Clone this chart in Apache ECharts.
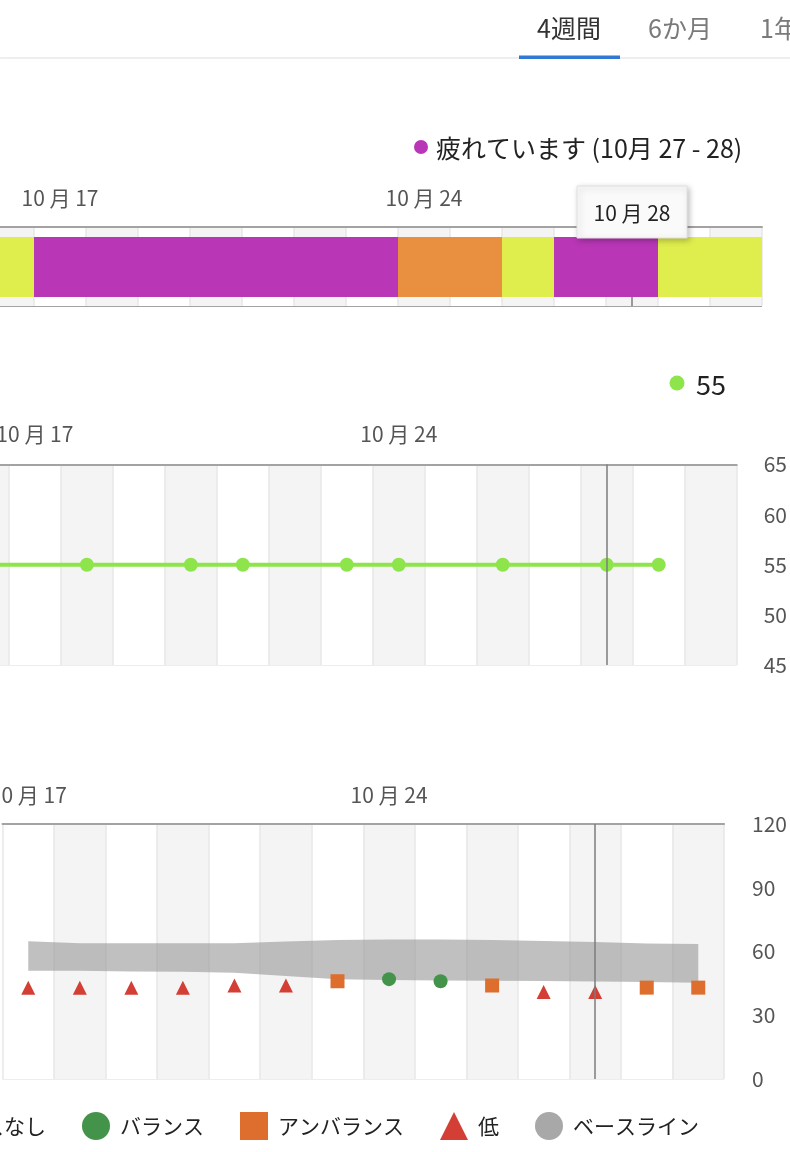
<!DOCTYPE html>
<html><head><meta charset="utf-8">
<script src="https://cdn.jsdelivr.net/npm/echarts@6/dist/echarts.min.js"></script>
<style>
html,body{margin:0;padding:0;background:#fff;overflow:hidden;width:790px;height:1152px;position:relative}
#c{position:absolute;left:-260px;top:0;width:1050px;height:1152px}
</style>
</head><body><div id="c"></div>
<script>
// ---------- data ----------
const MONTH = 10;
const selectedDay = '28';
const tabs = ['4週間', '6か月', '1年'];

// chart 1: daily status bar
const statusDays = ['16','17','18','19','20','21','22','23','24','25','26','27','28','29','30'];
const statusValues = ['fresh','tired','tired','tired','tired','tired','tired','tired','strained','strained','fresh','tired','tired','fresh','fresh'];
const statusLabels = { tired: '疲れています', strained: '', fresh: '' };

// chart 2: score line
const scoreDays = ['16','17','18','19','20','21','22','23','24','25','26','27','28','29','30'];
const scoreValues = [55, null, 55, null, 55, 55, null, 55, 55, null, 55, null, 55, 55, null];

// chart 3: HRV status
const hrvDays = ['17','18','19','20','21','22','23','24','25','26','27','28','29','30'];
const hrvValues = [43, 43, 43, 43, 44, 44, 46, 47, 46, 44, 41, 41, 43, 43];
const hrvStatus = ['low','low','low','low','low','low','unbalanced','balanced','balanced','unbalanced','low','low','unbalanced','unbalanced'];
const baselineLow  = [51, 51, 50.6, 50.5, 50, 48.5, 47, 46.6, 46.4, 46.2, 46.1, 45.9, 45.6, 45.3];
const baselineHigh = [64.8, 63.9, 63.9, 63.9, 63.9, 64.7, 65.4, 65.6, 65.6, 65.4, 65, 64.5, 63.8, 63.5];
const legendNames = ['ステータスなし', 'バランス', 'アンバランス', '低', 'ベースライン'];

// ---------- styles ----------
const OFF = 260;
const sx = v => v + OFF;
const FONT = "'Noto Sans CJK JP', 'Noto Sans', sans-serif";
const statusColors = { fresh: '#dfee4c', tired: '#b937b7', strained: '#e88f40' };
const GREEN_LINE = '#8ee54b';
const C_BAL = '#43944a', C_UNBAL = '#dd6e2e', C_LOW = '#d33f35', C_BASE = '#a8a8a8';
const GRAY_BAND = '#f4f4f4', SPLIT = '#e7e7e7', BORDER = '#a3a3a3', CROSS = '#7d7d7d';

const dayLabel = v => MONTH + ' 月 ' + v;
const weekly = (i, v) => (Number(v) - 3) % 7 === 0;

function xAxisBase(grid, days, firstGray, labelMargin) {
  return {
    type: 'category', gridIndex: grid, data: days, position: 'top', boundaryGap: true,
    axisLine: { show: true, onZero: false, lineStyle: { color: BORDER, width: 2 } },
    axisTick: { show: false, interval: 0 },
    axisLabel: { interval: weekly, formatter: dayLabel, margin: labelMargin, verticalAlign: 'middle',
                 color: '#555', fontSize: 21, fontFamily: FONT },
    splitLine: { show: true, interval: 0, lineStyle: { color: SPLIT, width: 1.5 } },
    splitArea: { show: true, interval: 0, areaStyle: { color: firstGray ? [GRAY_BAND, '#ffffff'] : ['#ffffff', GRAY_BAND] } }
  };
}

const chart = echarts.init(document.getElementById('c'), null, { renderer: 'canvas' });

const crossLine = {
  silent: true, symbol: 'none', label: { show: false }, animation: false,
  lineStyle: { color: CROSS, width: 1.5, type: 'solid' },
  data: [{ xAxis: selectedDay }]
};

const scatterFor = key => hrvDays.map((d, i) => hrvStatus[i] === key ? [d, hrvValues[i]] : null).filter(Boolean);

const option = {
  animation: false,
  textStyle: { fontFamily: FONT },
  grid: [
    { left: 242, top: 227, width: 780, height: 79 },
    { left: 242, top: 237, width: 780, height: 60 },
    { left: sx(-43.1), top: 464.5, width: 781, height: 200.5 },
    { left: sx(2.5), top: 824, width: 722.5, height: 255 }
  ],
  xAxis: [
    xAxisBase(0, statusDays, true, 29),
    { type: 'category', gridIndex: 1, data: statusDays, show: false },
    xAxisBase(2, scoreDays, true, 30),
    xAxisBase(3, hrvDays, false, 29)
  ],
  yAxis: [
    { type: 'value', gridIndex: 0, min: 0, max: 1, interval: 1, axisLabel: { show: false },
      axisLine: { show: false, onZero: false }, axisTick: { show: false },
      splitLine: { show: true, lineStyle: { color: BORDER, width: 2 } } },
    { type: 'value', gridIndex: 1, min: 0, max: 1, show: false },
    { type: 'value', gridIndex: 2, position: 'right', min: 45, max: 65, interval: 5,
      axisLine: { show: false, onZero: false }, axisTick: { show: false },
      axisLabel: { margin: 27, color: '#555', fontSize: 21, fontFamily: FONT },
      splitLine: { show: true, lineStyle: { color: SPLIT, width: 1.5 } } },
    { type: 'value', gridIndex: 3, position: 'right', min: 0, max: 120, interval: 30,
      axisLine: { show: false, onZero: false }, axisTick: { show: false },
      axisLabel: { margin: 28, color: '#555', fontSize: 21, fontFamily: FONT },
      splitLine: { show: true, lineStyle: { color: SPLIT, width: 1.5 } } }
  ],
  legend: {
    top: 1112, right: 1050 - sx(699), padding: 0, itemGap: 36, itemWidth: 28, itemHeight: 28,
    selectedMode: false,
    textStyle: { fontSize: 21, color: '#222', fontFamily: FONT, padding: [0, 0, 0, 5] },
    data: [
      { name: legendNames[0], icon: 'circle', itemStyle: { color: '#cccccc' } },
      { name: legendNames[1], icon: 'circle', itemStyle: { color: C_BAL } },
      { name: legendNames[2], icon: 'rect', itemStyle: { color: C_UNBAL } },
      { name: legendNames[3], icon: 'triangle', itemStyle: { color: C_LOW } },
      { name: legendNames[4], icon: 'circle', itemStyle: { color: C_BASE } }
    ]
  },
  series: [
    { name: 'cross1', type: 'line', xAxisIndex: 0, yAxisIndex: 0, data: statusDays.map(() => null),
      symbol: 'none', markLine: Object.assign({ z: 1 }, crossLine), z: 1 },
    { name: 'status', type: 'bar', xAxisIndex: 1, yAxisIndex: 1, barWidth: '100%', barGap: 0, z: 10,
      data: statusValues.map(s => ({ value: 1, itemStyle: { color: statusColors[s] } })) },
    { name: 'score', type: 'line', xAxisIndex: 2, yAxisIndex: 2, data: scoreValues, connectNulls: true,
      symbol: 'circle', symbolSize: 14, showAllSymbol: true,
      lineStyle: { color: GREEN_LINE, width: 4 }, itemStyle: { color: GREEN_LINE },
      markLine: crossLine, z: 3 },
    { name: 'baseLow', type: 'line', xAxisIndex: 3, yAxisIndex: 3, stack: 'base', data: baselineLow,
      symbol: 'none', lineStyle: { width: 0, opacity: 0 }, z: 2 },
    { name: legendNames[4], type: 'line', xAxisIndex: 3, yAxisIndex: 3, stack: 'base',
      data: baselineHigh.map((h, i) => +(h - baselineLow[i]).toFixed(2)),
      symbol: 'none', lineStyle: { width: 0, opacity: 0 },
      areaStyle: { color: 'rgba(150,150,150,0.6)', opacity: 1 }, itemStyle: { color: C_BASE }, z: 2 },
    { name: legendNames[0], type: 'scatter', xAxisIndex: 3, yAxisIndex: 3, data: [], itemStyle: { color: '#cccccc' } },
    { name: legendNames[1], type: 'scatter', xAxisIndex: 3, yAxisIndex: 3, data: scatterFor('balanced'),
      symbol: 'circle', symbolSize: 14, itemStyle: { color: C_BAL, opacity: 1 }, z: 4 },
    { name: legendNames[2], type: 'scatter', xAxisIndex: 3, yAxisIndex: 3, data: scatterFor('unbalanced'),
      symbol: 'rect', symbolSize: 14, itemStyle: { color: C_UNBAL, opacity: 1 }, z: 4 },
    { name: legendNames[3], type: 'scatter', xAxisIndex: 3, yAxisIndex: 3, data: scatterFor('low'),
      symbol: 'triangle', symbolSize: 14, itemStyle: { color: C_LOW, opacity: 1 }, z: 4, markLine: crossLine }
  ]
};
chart.setOption(option);

// ---------- overlays derived from data ----------
const selIdx = statusDays.indexOf(selectedDay);
const selStatus = statusValues[selIdx];
let a = selIdx, b = selIdx;
while (a > 0 && statusValues[a - 1] === selStatus) a--;
while (b < statusValues.length - 1 && statusValues[b + 1] === selStatus) b++;
const statusText = statusLabels[selStatus] + ' (' + MONTH + '月 ' + statusDays[a] + ' - ' + statusDays[b] + ')';
const scoreText = String(scoreValues[scoreDays.indexOf(selectedDay)]);
const tipX = chart.convertToPixel({ xAxisIndex: 0 }, selectedDay);

chart.setOption({
  graphic: { elements: [
    { type: 'line', shape: { x1: 0, y1: 58, x2: 1050, y2: 58 }, style: { stroke: '#dddddd', lineWidth: 1 }, silent: true },
    { type: 'rect', shape: { x: sx(519), y: 55.5, width: 101, height: 3.5 }, style: { fill: '#2f78d4' }, silent: true },
    { type: 'text', x: sx(537), y: 28, style: { text: tabs[0], font: '25px ' + FONT, fill: '#333', verticalAlign: 'middle' } },
    { type: 'text', x: sx(648), y: 28, style: { text: tabs[1], font: '25px ' + FONT, fill: '#7a7a7a', verticalAlign: 'middle' } },
    { type: 'text', x: sx(760), y: 28, style: { text: tabs[2], font: '25px ' + FONT, fill: '#7a7a7a', verticalAlign: 'middle' } },
    { type: 'circle', shape: { cx: sx(421), cy: 147, r: 7 }, style: { fill: statusColors[selStatus] } },
    { type: 'text', x: sx(436), y: 148, style: { text: statusText, font: '25px ' + FONT, fill: '#222', verticalAlign: 'middle' } },
    { type: 'circle', shape: { cx: sx(677), cy: 383, r: 7.5 }, style: { fill: GREEN_LINE } },
    { type: 'text', x: sx(696), y: 385, style: { text: scoreText, font: '27px ' + FONT, fill: '#222', verticalAlign: 'middle' } },
    { type: 'rect', z: 100, shape: { x: tipX - 55, y: 186, width: 110, height: 52 },
      style: { fill: '#fafafa', stroke: '#e2e2e2', lineWidth: 1, shadowBlur: 6, shadowColor: 'rgba(0,0,0,0.25)', shadowOffsetX: 2, shadowOffsetY: 2 } },
    { type: 'text', z: 101, x: tipX, y: 213, style: { text: dayLabel(selectedDay), font: '21px ' + FONT, fill: '#222', align: 'center', verticalAlign: 'middle' } }
  ] }
});
</script>
</body></html>
